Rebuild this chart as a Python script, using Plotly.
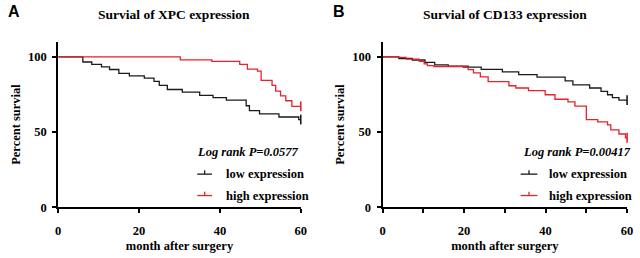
import plotly.graph_objects as go

# ---------------- data ----------------
a_low_t = [0, 6.1, 8.3, 10.7, 12.7, 15, 17.6, 21.3, 23.7, 25, 27, 30.7, 35, 38.3, 41.6, 46.5, 47.3, 49.8, 54.6, 59.5, 60]
a_low_s = [100, 96.6, 95, 93.3, 91.6, 89, 87.3, 85.8, 83.7, 81, 78.3, 76.6, 74.4, 72.9, 71.2, 67.5, 64.3, 62.1, 60, 58.3, 58.3]
a_high_t = [0, 30.2, 38, 44.9, 46.8, 49.3, 50.2, 52.9, 53.8, 55, 56.3, 57.8, 60]
a_high_s = [100, 98, 97, 95, 91.8, 90.5, 84.3, 81, 77.2, 74, 70.8, 67.1, 67.1]

b_low_t = [0, 4, 7.3, 10.4, 12.8, 16.1, 21, 24.2, 29.4, 33.4, 37.9, 44.8, 46.7, 50.8, 53.6, 55.2, 56.4, 58, 60]
b_low_s = [100, 98.9, 97.9, 96.3, 94.7, 93.8, 93.2, 91.7, 90, 88.2, 86.5, 84, 81.4, 79.3, 77.1, 74.8, 72.9, 71.2, 71.2]
b_high_t = [0, 3.8, 5.8, 9, 10.2, 11, 12.6, 19.8, 21, 22.3, 24, 25.9, 27.8, 31, 32.7, 35.8, 39.9, 42.3, 45.5, 47.2, 50, 52.8, 55.2, 56, 58, 59.6, 60]
b_high_s = [100, 99.6, 98.5, 97, 95.3, 94.2, 93.6, 93.1, 91.5, 89.3, 86.7, 83.5, 83.5, 80.8, 79.3, 77.6, 74.8, 71.8, 70.1, 67.3, 58.3, 56.8, 54.7, 51.5, 48.7, 46.2, 46.2]

titles = ["Survial of XPC expression", "Survial of CD133 expression"]
pvals = ["Log rank P=0.0577", "Log rank P=0.00417"]
panel_letters = ["A", "B"]
legend_labels = ["low expression", "high expression"]
x_ticks = [0, 20, 40, 60]
y_ticks = [0, 50, 100]

BLACK = "#1a1a1a"
RED = "#e8212b"
SERIF = "Liberation Serif, Times New Roman, serif"
FS = 12.5

fig = go.Figure()

panels = [
    dict(xa="x", ya="y", low=(a_low_t, a_low_s), high=(a_high_t, a_high_s)),
    dict(xa="x2", ya="y2", low=(b_low_t, b_low_s), high=(b_high_t, b_high_s)),
]
for p in panels:
    for (t, s), col in [(p["low"], BLACK), (p["high"], RED)]:
        fig.add_trace(go.Scatter(x=t, y=s, mode="lines", line=dict(color=col, width=1.3, shape="hv"),
                                 xaxis=p["xa"], yaxis=p["ya"], showlegend=False, hoverinfo="skip",
                                 cliponaxis=False))
        fig.add_trace(go.Scatter(x=[t[-1]], y=[s[-1]], mode="markers",
                                 marker=dict(symbol="line-ns", size=7, line=dict(color=col, width=1.6)),
                                 xaxis=p["xa"], yaxis=p["ya"], showlegend=False, hoverinfo="skip",
                                 cliponaxis=False))

axis_common = dict(showgrid=False, zeroline=False, showline=True, linecolor="black", linewidth=2,
                   ticks="outside", ticklen=4, tickwidth=2, tickcolor="black",
                   tickfont=dict(family=SERIF, size=FS, color="black", weight="bold"))
title_font = dict(family=SERIF, size=FS, color="black", weight="bold")

doms_x = [[56 / 640, 302 / 640], [385 / 640, 633 / 640]]
ydom = [45 / 258, 215 / 258]

fig.update_layout(
    width=640, height=258, margin=dict(l=0, r=0, t=0, b=0),
    paper_bgcolor="white", plot_bgcolor="white",
    xaxis=dict(domain=doms_x[0], range=[0, 60], tickvals=x_ticks, anchor="y", ticklabelstandoff=7,
               title=dict(text="month after surgery", standoff=4, font=title_font), **axis_common),
    yaxis=dict(domain=ydom, range=[0, 110], tickvals=y_ticks, anchor="x", ticklabelstandoff=3,
               title=dict(text="Percent survial", standoff=5, font=title_font), **axis_common),
    xaxis2=dict(domain=doms_x[1], range=[0, 60], tickvals=x_ticks, anchor="y2", ticklabelstandoff=7,
                minor=dict(tickvals=[10, 30, 50], ticks="outside", ticklen=4, tickwidth=2, tickcolor="black"),
                title=dict(text="month after surgery", standoff=4, font=title_font), **axis_common),
    yaxis2=dict(domain=ydom, range=[0, 110], tickvals=y_ticks, anchor="x2", ticklabelstandoff=3,
                title=dict(text="Percent survial", standoff=5, font=title_font), **axis_common),
)

title_x = [173 / 640, 509 / 640]
letter_x = [3 / 640, 333 / 640]
for i in range(2):
    fig.add_annotation(text=titles[i], x=title_x[i], y=1 - 15 / 258, xref="paper", yref="paper",
                       showarrow=False, xanchor="center", yanchor="middle",
                       font=dict(family=SERIF, size=13.5, color="black", weight="bold"))
    fig.add_annotation(text=panel_letters[i], x=letter_x[i], y=1 - 12 / 258, xref="paper", yref="paper",
                       showarrow=False, xanchor="left", yanchor="middle",
                       font=dict(family="Liberation Sans, Arial, sans-serif", size=16, color="black", weight="bold"))

# legend blocks (pixel positions converted to paper)
leg = [
    dict(p_x=195, line_x0=197, line_x1=212, text_x=224),
    dict(p_x=525, line_x0=525, line_x1=542, text_x=552),
]
rows_y = [179, 201]
for i, L in enumerate(leg):
    fig.add_annotation(text=f"<i>{pvals[i]}</i>", x=L["p_x"] / 640, y=1 - 156 / 258, xref="paper", yref="paper",
                       showarrow=False, xanchor="left", yanchor="middle",
                       font=dict(family=SERIF, size=FS, color="black", weight="bold"))
    for j, col in enumerate([BLACK, RED]):
        yy = 1 - rows_y[j] / 258
        fig.add_shape(type="line", xref="paper", yref="paper", x0=L["line_x0"] / 640, x1=L["line_x1"] / 640,
                      y0=yy, y1=yy, line=dict(color=col, width=1.3))
        xm = (L["line_x0"] + L["line_x1"]) / 2 / 640
        fig.add_shape(type="line", xref="paper", yref="paper", x0=xm, x1=xm,
                      y0=yy, y1=yy + 4 / 258, line=dict(color=col, width=1.3))
        fig.add_annotation(text=legend_labels[j], x=L["text_x"] / 640, y=yy, xref="paper", yref="paper",
                           showarrow=False, xanchor="left", yanchor="middle",
                           font=dict(family=SERIF, size=FS, color="black", weight="bold"))

fig.write_html("out.html", config={"displayModeBar": False, "staticPlot": True})

# remove default page margin so the 640x258 figure fits the window exactly
with open("out.html", "r", encoding="utf-8") as f:
    html = f.read()
html = html.replace("<head>", "<head><style>html,body{margin:0;padding:0;overflow:hidden;}</style>", 1)
with open("out.html", "w", encoding="utf-8") as f:
    f.write(html)
